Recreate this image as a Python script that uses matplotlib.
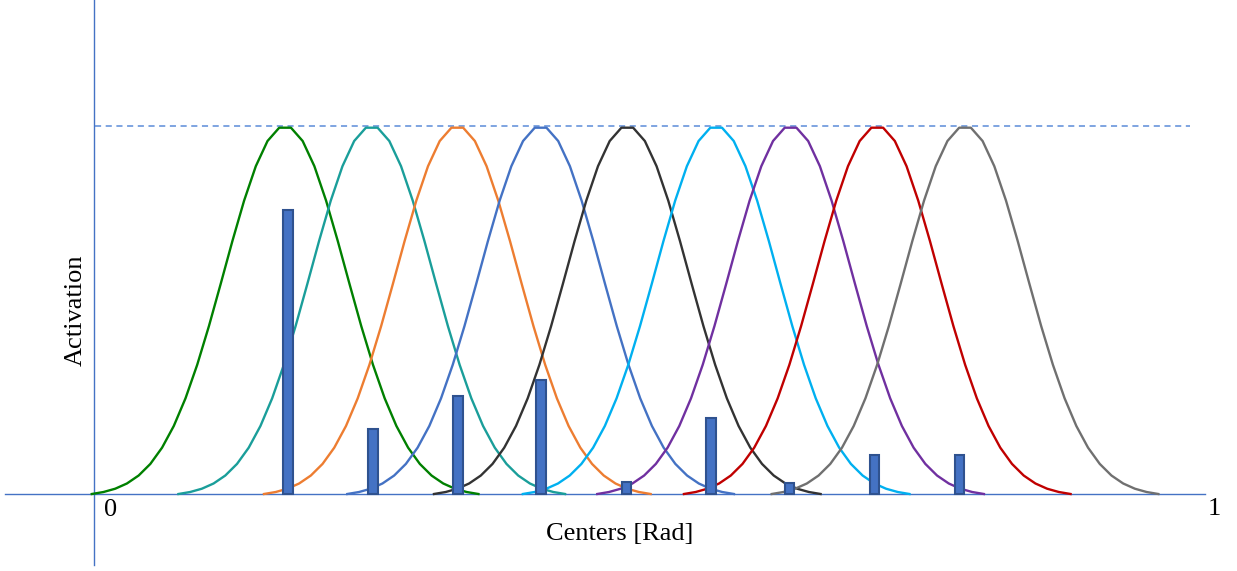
import numpy as np
import matplotlib
matplotlib.use("Agg")
import matplotlib.pyplot as plt

# Gaussian receptive fields (centers in normalised radians)
centers = [0.172, 0.250, 0.327, 0.402, 0.480, 0.560, 0.627, 0.705, 0.784]
colors = ["#008000", "#1A9E9A", "#ED7D31", "#4472C4", "#333333",
          "#00B0F0", "#7030A0", "#C00000", "#707070"]
sigma = 0.055
half_span = 0.174

# Bars: input activation at each center
bar_x = [0.1746, 0.2511, 0.3276, 0.4023, 0.4793, 0.5554, 0.626, 0.7025, 0.779]
bar_h = [0.772, 0.177, 0.266, 0.310, 0.033, 0.207, 0.030, 0.106, 0.106]

axis_blue = "#4472C4"

fig = plt.figure(figsize=(12.37, 5.71), dpi=100)
ax = fig.add_axes([0, 0, 1, 1])
ax.set_xlim(-94 / 1111, 1143 / 1111)
ax.set_ylim(-77 / 368, 494 / 368)
ax.axis("off")

# axes lines
ax.plot([-89 / 1111, 1.0], [0, 0], color=axis_blue, lw=1.0, zorder=1)
ax.plot([0, 0], [-71 / 368, 494 / 368], color=axis_blue, lw=1.0, zorder=1)
ax.plot([0.001, 1096 / 1111], [1, 1], color="#5B8BD8", lw=1.1,
        ls=(0, (4, 3)), zorder=1)

for c, col in zip(centers, colors):
    x = np.linspace(c - half_span, c + half_span, 34)
    g = np.exp(-(x - c) ** 2 / (2 * sigma ** 2))
    g_end = g[0]
    y = (g - g_end) / (1 - g_end)
    ax.plot(x, y, color=col, lw=1.7, zorder=2)

ax.bar(bar_x, bar_h, width=0.0083, color="#4472C4", edgecolor="#2F528F",
       linewidth=1.5, zorder=3)

font = dict(family="Liberation Serif", fontsize=19, color="black")
ax.text(0.015, -0.043, "0", ha="center", va="center", **font)
ax.text(1.008, -0.042, "1", ha="center", va="center", **font)
ax.text(0.473, -0.11, "Centers [Rad]", ha="center", va="center", **font)
ax.text(-0.0165, 0.5, "Activation", rotation=90, ha="center", va="center", **font)

fig.savefig("out.png", dpi=100)
